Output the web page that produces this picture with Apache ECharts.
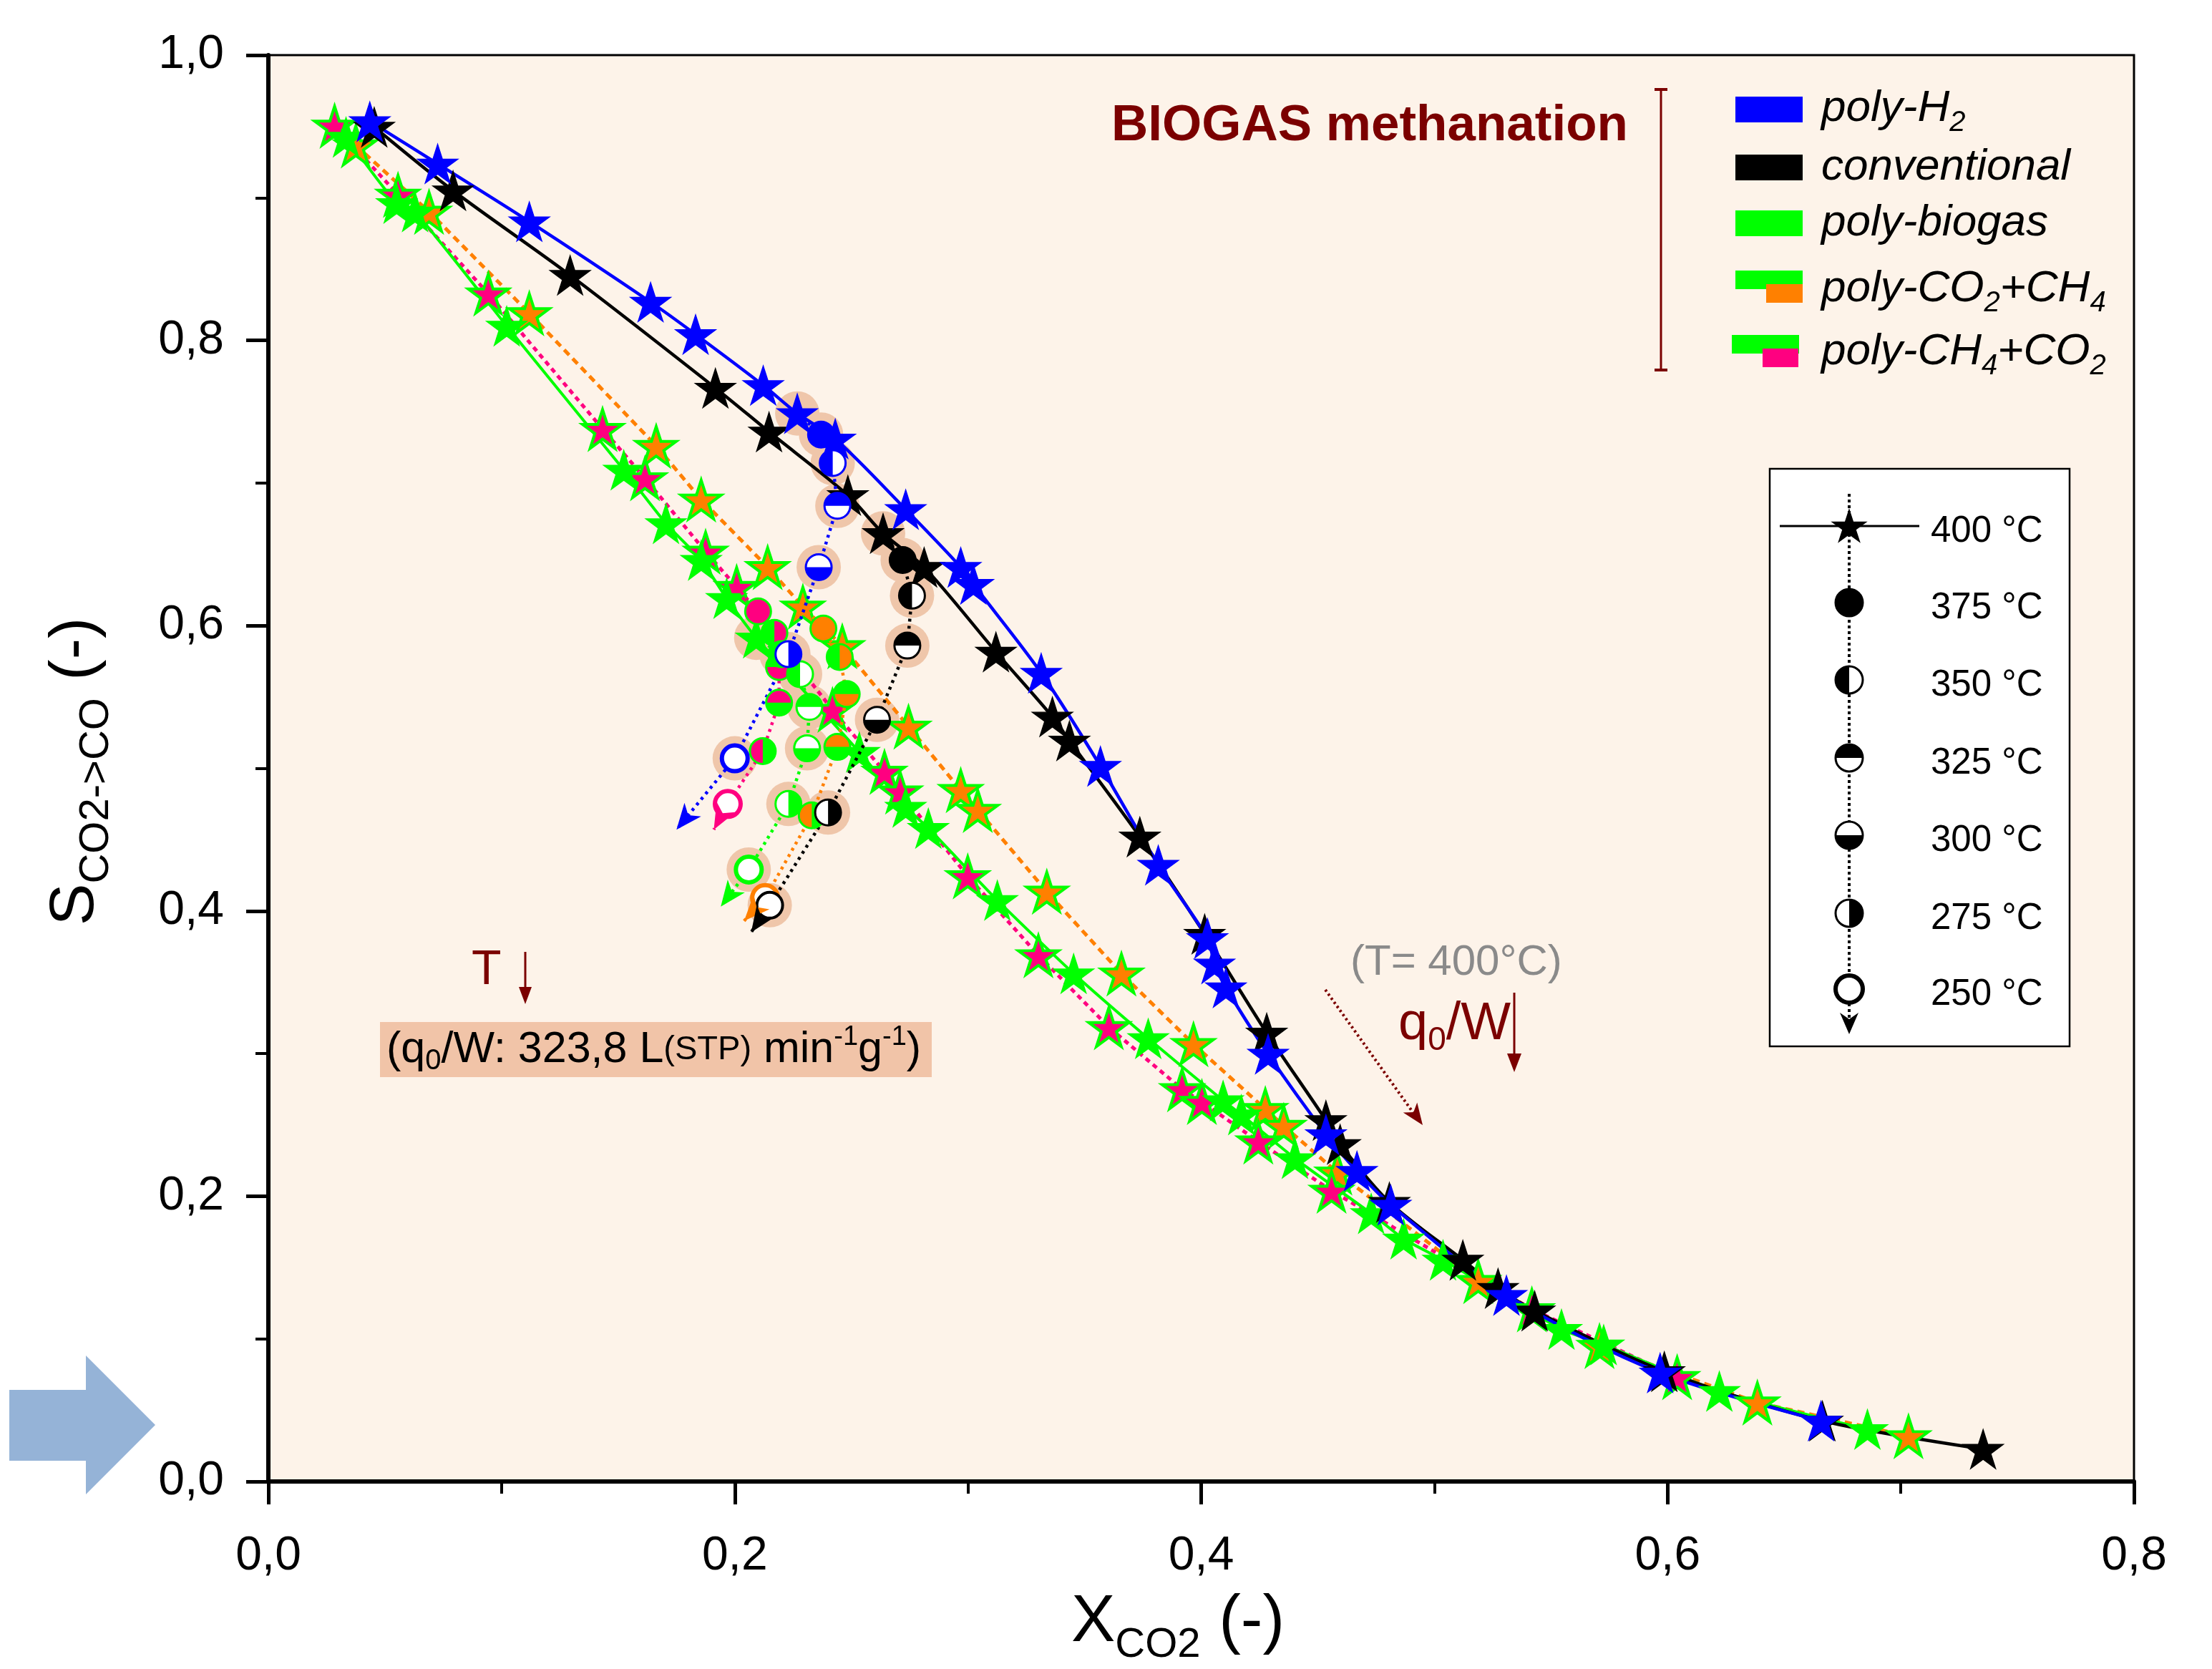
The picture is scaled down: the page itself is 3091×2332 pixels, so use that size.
<!DOCTYPE html>
<html>
<head>
<meta charset="utf-8">
<script src="https://cdn.jsdelivr.net/npm/echarts@6/dist/echarts.min.js"></script>
<title>biogas methanation</title>
<style>
html, body { margin: 0; padding: 0; background: #fff; }
#main { width: 3091px; height: 2332px; }
</style>
</head>
<body>
<div id="main"></div>
<script>
// 400 °C runs, q0/W decreasing along each curve (X_CO2, S_CO2->CO)
var blueStars = [[0.0435,0.9535],[0.0726,0.9238],[0.1119,0.8833],[0.1639,0.8269],[0.1832,0.8042],[0.2122,0.7685],[0.2268,0.7488],[0.2431,0.7310],[0.2733,0.6815],[0.2969,0.6410],[0.3023,0.6291],[0.3314,0.5668],[0.3568,0.5015],[0.3816,0.4322],[0.4027,0.3808],[0.4057,0.3630],[0.4106,0.3462],[0.4287,0.2997],[0.4535,0.2433],[0.4668,0.2176],[0.4813,0.1939],[0.5309,0.1306],[0.5968,0.0762],[0.6658,0.0425]];
var blackStars = [[0.0454,0.9496],[0.0792,0.9050],[0.1294,0.8457],[0.1917,0.7666],[0.2147,0.7359],[0.2485,0.6914],[0.2636,0.6647],[0.2812,0.6410],[0.3120,0.5816],[0.3362,0.5361],[0.3435,0.5193],[0.3737,0.4520],[0.4015,0.3838],[0.4281,0.3145],[0.4535,0.2532],[0.4596,0.2364],[0.4807,0.1958],[0.5122,0.1553],[0.5273,0.1355],[0.5430,0.1197],[0.5986,0.0772],[0.6664,0.0425],[0.7353,0.0227]];
var greenStars = [[0.0333,0.9426],[0.0550,0.8961],[0.0629,0.8902],[0.1022,0.8101],[0.1524,0.7092],[0.1705,0.6716],[0.1856,0.6459],[0.1965,0.6192],[0.2092,0.5915],[0.2534,0.5114],[0.2733,0.4728],[0.2830,0.4580],[0.3126,0.4075],[0.3453,0.3561],[0.3773,0.3106],[0.4094,0.2671],[0.4172,0.2572],[0.4402,0.2265],[0.4729,0.1879],[0.4868,0.1701],[0.5037,0.1553],[0.5545,0.1068],[0.5726,0.0959],[0.6222,0.0633],[0.6857,0.0366]];
var orangeStars = [[0.0375,0.9367],[0.0689,0.8902],[0.1119,0.8190],[0.1663,0.7260],[0.1856,0.6884],[0.2141,0.6410],[0.2292,0.6133],[0.2461,0.5856],[0.2745,0.5292],[0.2969,0.4847],[0.3042,0.4708],[0.3338,0.4135],[0.3658,0.3561],[0.3967,0.3066],[0.4275,0.2611],[0.4354,0.2493],[0.4584,0.2166],[0.5188,0.1405],[0.5708,0.0950],[0.6385,0.0554],[0.7033,0.0317]];
var pinkStars = [[0.0284,0.9505],[0.0556,0.9021],[0.0943,0.8328],[0.1433,0.7379],[0.1615,0.7033],[0.1875,0.6518],[0.2008,0.6271],[0.2419,0.5410],[0.2642,0.4975],[0.2709,0.4837],[0.2999,0.4243],[0.3302,0.3689],[0.3604,0.3185],[0.3918,0.2750],[0.4003,0.2661],[0.4245,0.2384],[0.4559,0.2038],[0.5418,0.1207],[0.6041,0.0732]];

// temperature runs at q0/W = 323,8 : 400, 375, 350, 325, 300, 275, 250 °C
var tempLabels = ['400 °C', '375 °C', '350 °C', '325 °C', '300 °C', '275 °C', '250 °C'];
var blueTemp = [[0.2268,0.7488],[0.237,0.734],[0.242,0.714],[0.244,0.684],[0.236,0.641],[0.223,0.580],[0.200,0.507]];
var blackTemp = [[0.2636,0.6647],[0.272,0.646],[0.276,0.621],[0.274,0.586],[0.261,0.534],[0.240,0.469],[0.215,0.404]];
var greenTemp = [[0.2092,0.5915],[0.220,0.580],[0.228,0.566],[0.232,0.543],[0.231,0.514],[0.223,0.475],[0.206,0.429]];
var orangeTemp = [[0.2292,0.6133],[0.238,0.598],[0.245,0.578],[0.248,0.552],[0.244,0.515],[0.233,0.467],[0.213,0.409]];
var pinkTemp = [[0.2008,0.6271],[0.210,0.610],[0.217,0.595],[0.219,0.571],[0.219,0.546],[0.212,0.512],[0.197,0.475]];
// where the T-arrows end
var blueTip = [0.175,0.457];
var blackTip = [0.207,0.385];
var greenTip = [0.194,0.403];
var orangeTip = [0.204,0.393];
var pinkTip = [0.191,0.457];

var F = "'Liberation Sans', Arial, sans-serif";
var DARK = '#7b0000';
var HALO = '#efc6aa';
var BLUE = '#0000ff', GREEN = '#00ff00', ORANGE = '#ff8000', PINK = '#ff0080';
var STAR = 'path://M50,0L61.2,34.5L97.6,34.5L68.2,55.9L79.4,90.5L50,69.1L20.6,90.5L31.8,55.9L2.4,34.5L38.8,34.5Z';

var PATTERN = [null, 'full', 'left', 'top', 'bottom', 'right', 'open'];
var HALF = {
  left: [Math.PI / 2, Math.PI * 1.5],
  top: [Math.PI, Math.PI * 2],
  bottom: [0, Math.PI],
  right: [-Math.PI / 2, Math.PI / 2]
};

function st(c) {
  return { color: c, full: c, base: '#ffffff', half: c, border: c, ring: c, bw: 3, ringW: 6 };
}
var blueSt = st(BLUE);
var blackSt = st('#000000'); blackSt.ringW = 4;
var greenSt = st(GREEN);
var orangeSt = { color: ORANGE, full: ORANGE, base: ORANGE, half: GREEN, border: GREEN, ring: ORANGE, bw: 3, ringW: 6 };
var pinkSt = { color: PINK, full: PINK, base: PINK, half: GREEN, border: GREEN, ring: PINK, bw: 3, ringW: 6 };

function markerParts(cx, cy, r, k, s) {
  var pat = PATTERN[k];
  var base = pat === 'full' ? s.full : (pat === 'open' ? '#ffffff' : s.base);
  var parts = [{ type: 'circle', shape: { cx: cx, cy: cy, r: r }, style: { fill: base } }];
  var a = HALF[pat];
  if (a) {
    parts.push({ type: 'sector', shape: { cx: cx, cy: cy, r0: 0, r: r, startAngle: a[0], endAngle: a[1], clockwise: true }, style: { fill: s.half } });
  }
  parts.push({ type: 'circle', shape: { cx: cx, cy: cy, r: r },
    style: { fill: 'none', stroke: pat === 'open' ? s.ring : s.border, lineWidth: pat === 'open' ? s.ringW : s.bw } });
  return parts;
}

function headPts(x, y, a, L, w, notch) {
  var dx = Math.cos(a), dy = Math.sin(a), px = -dy, py = dx;
  return [[x, y],
    [x - L * dx + w * px, y - L * dy + w * py],
    [x - (L - notch) * dx, y - (L - notch) * dy],
    [x - L * dx - w * px, y - L * dy - w * py]];
}

function starPoints(cx, cy, R) {
  var pts = [];
  for (var i = 0; i < 10; i++) {
    var a = -Math.PI / 2 + i * Math.PI / 5;
    var rr = i % 2 ? R * 0.382 : R;
    pts.push([cx + rr * Math.cos(a), cy + rr * Math.sin(a)]);
  }
  return pts;
}

function starLine(name, data, color, line, z) {
  return {
    name: name, type: 'line', data: data, z: z || 2,
    symbol: STAR, symbolSize: [56, 54], smooth: line.smooth || false,
    lineStyle: { color: line.color || color, width: line.width || 4, type: line.type || 'solid' },
    itemStyle: { color: color, borderColor: line.border || color, borderWidth: line.border ? 4 : 1.5 }
  };
}

function haloSeries(pts) {
  return {
    type: 'custom', z: 1, encode: { x: 0, y: 1 }, data: pts,
    renderItem: function (params, api) {
      var c = api.coord([api.value(0), api.value(1)]);
      return { type: 'circle', shape: { cx: c[0], cy: c[1], r: 31 }, style: { fill: HALO } };
    }
  };
}

function tempLine(pts, tip, color) {
  return {
    type: 'line', z: 3, symbol: 'none', data: pts.concat([tip]),
    lineStyle: { color: color, width: 4.5, type: [4, 6] }
  };
}

function circleSeries(pts, s) {
  return {
    type: 'custom', z: 4, encode: { x: 0, y: 1 },
    data: pts.slice(1).map(function (p, i) { return [p[0], p[1], i + 1]; }),
    renderItem: function (params, api) {
      var c = api.coord([api.value(0), api.value(1)]);
      return { type: 'group', children: markerParts(c[0], c[1], 18, api.value(2), s) };
    }
  };
}

function arrowSeries(pts, tip, color) {
  var last = pts[pts.length - 1];
  return {
    type: 'custom', z: 4, encode: { x: 0, y: 1 },
    data: [[tip[0], tip[1], last[0], last[1]]],
    renderItem: function (params, api) {
      var t = api.coord([api.value(0), api.value(1)]);
      var p = api.coord([api.value(2), api.value(3)]);
      var a = Math.atan2(t[1] - p[1], t[0] - p[0]);
      return { type: 'polygon', shape: { points: headPts(t[0], t[1], a, 36, 15, 10) }, style: { fill: color } };
    }
  };
}

var series = [
  haloSeries(blueTemp), haloSeries(blackTemp), haloSeries(greenTemp),
  starLine('poly-CO2+CH4', orangeStars, ORANGE, { color: ORANGE, width: 5, type: [10, 7], border: GREEN }),
  starLine('poly-CH4+CO2', pinkStars, PINK, { color: PINK, width: 5, type: [7, 6], border: GREEN }),
  starLine('poly-biogas', greenStars, GREEN, { color: GREEN, width: 4, smooth: 0.2 }),
  starLine('conventional', blackStars, '#000000', { width: 4.5, smooth: 0.3 }),
  starLine('poly-H2', blueStars, BLUE, { width: 4.5, smooth: 0.3 }),
  tempLine(orangeTemp, orangeTip, ORANGE), tempLine(pinkTemp, pinkTip, PINK),
  tempLine(greenTemp, greenTip, GREEN), tempLine(blackTemp, blackTip, '#000000'),
  tempLine(blueTemp, blueTip, BLUE),
  circleSeries(orangeTemp, orangeSt), circleSeries(pinkTemp, pinkSt),
  circleSeries(greenTemp, greenSt), circleSeries(blackTemp, blackSt),
  circleSeries(blueTemp, blueSt),
  arrowSeries(orangeTemp, orangeTip, ORANGE), arrowSeries(pinkTemp, pinkTip, PINK),
  arrowSeries(greenTemp, greenTip, GREEN), arrowSeries(blackTemp, blackTip, '#000000'),
  arrowSeries(blueTemp, blueTip, BLUE)
];

// ---------- legends and notes ----------
var italic = { fontSize: 62, fontStyle: 'italic', fontFamily: F, fill: '#000', lineHeight: 80 };
var italicSub = { fontSize: 40, fontStyle: 'italic', fontFamily: F, fill: '#000', lineHeight: 40, verticalAlign: 'bottom' };
function legendText(y, text) {
  return { type: 'text', x: 2545, y: y, z: 10,
    style: { text: text, align: 'left', verticalAlign: 'middle', textAlign: 'left', textVerticalAlign: 'middle',
      rich: { i: italic, s: italicSub } } };
}

var graphics = [
  // big arrow on the left
  { type: 'polygon', z: 10, shape: { points: [[13,1942],[120,1942],[120,1894],[217,1991],[120,2088],[120,2041],[13,2041]] }, style: { fill: '#95b3d7' } },
  { type: 'text', x: 1553, y: 176, z: 10,
    style: { text: 'BIOGAS methanation', fill: DARK, fontSize: 71, fontWeight: 'bold', fontFamily: F,
      align: 'left', verticalAlign: 'middle', textAlign: 'left', textVerticalAlign: 'middle' } },
  { type: 'line', z: 10, shape: { x1: 2321, y1: 124, x2: 2321, y2: 518 }, style: { stroke: DARK, lineWidth: 3 } },
  { type: 'line', z: 10, shape: { x1: 2312, y1: 125, x2: 2330, y2: 125 }, style: { stroke: DARK, lineWidth: 4 } },
  { type: 'line', z: 10, shape: { x1: 2312, y1: 517, x2: 2330, y2: 517 }, style: { stroke: DARK, lineWidth: 4 } },
  { type: 'rect', z: 10, shape: { x: 2425, y: 135, width: 94, height: 36 }, style: { fill: BLUE } },
  { type: 'rect', z: 10, shape: { x: 2425, y: 216, width: 94, height: 36 }, style: { fill: '#000' } },
  { type: 'rect', z: 10, shape: { x: 2425, y: 294, width: 94, height: 36 }, style: { fill: GREEN } },
  { type: 'rect', z: 10, shape: { x: 2425, y: 378, width: 94, height: 26 }, style: { fill: GREEN } },
  { type: 'rect', z: 10, shape: { x: 2468, y: 397, width: 51, height: 26 }, style: { fill: ORANGE } },
  { type: 'rect', z: 10, shape: { x: 2420, y: 468, width: 94, height: 26 }, style: { fill: GREEN } },
  { type: 'rect', z: 10, shape: { x: 2463, y: 487, width: 50, height: 26 }, style: { fill: PINK } },
  legendText(152, '{i|poly-H}{s|2}'),
  legendText(234, '{i|conventional}'),
  legendText(312, '{i|poly-biogas}'),
  legendText(404, '{i|poly-CO}{s|2}{i|+CH}{s|4}'),
  legendText(492, '{i|poly-CH}{s|4}{i|+CO}{s|2}'),

  // temperature key
  { type: 'rect', z: 10, shape: { x: 2473, y: 655, width: 419, height: 807 }, style: { fill: '#fff', stroke: '#000', lineWidth: 2.5 } },
  { type: 'line', z: 11, shape: { x1: 2584, y1: 690, x2: 2584, y2: 1425 }, style: { stroke: '#000', lineWidth: 4, lineDash: [4, 4] } },
  { type: 'line', z: 11, shape: { x1: 2487, y1: 735, x2: 2682, y2: 735 }, style: { stroke: '#000', lineWidth: 3 } },
  { type: 'polygon', z: 12, shape: { points: starPoints(2584, 737, 27) }, style: { fill: '#000' } },
  { type: 'polygon', z: 12, shape: { points: headPts(2584, 1445, Math.PI / 2, 30, 13, 9) }, style: { fill: '#000' } }
];
var keyRows = [735, 842, 950, 1059, 1167, 1276, 1382];
keyRows.forEach(function (y, i) {
  if (i > 0) {
    markerParts(2584, y, 19, i, st('#000000')).forEach(function (p) { p.z = 12; graphics.push(p); });
  }
  graphics.push({ type: 'text', x: 2698, y: y + 8, z: 12,
    style: { text: tempLabels[i], fill: '#000', fontSize: 51, fontFamily: F,
      align: 'left', verticalAlign: 'middle', textAlign: 'left', textVerticalAlign: 'middle' } });
});

// T arrow and q0/W box
graphics.push(
  { type: 'text', x: 659, y: 1356, z: 10, style: { text: 'T', fill: DARK, fontSize: 68, fontFamily: F,
    align: 'left', verticalAlign: 'middle', textAlign: 'left', textVerticalAlign: 'middle' } },
  { type: 'line', z: 10, shape: { x1: 734, y1: 1330, x2: 734, y2: 1385 }, style: { stroke: DARK, lineWidth: 3 } },
  { type: 'polygon', z: 10, shape: { points: headPts(734, 1403, Math.PI / 2, 24, 9, 0) }, style: { fill: DARK } },
  { type: 'rect', z: 10, shape: { x: 531, y: 1428, width: 771, height: 77 }, style: { fill: '#f1c4a8' } },
  { type: 'text', x: 540, y: 1467, z: 11,
    style: { text: '{n|(q}{s|0}{n|/W: 323,8 L}{m|(STP)}{n| min}{u|-1}{n|g}{u|-1}{n|)}',
      align: 'left', verticalAlign: 'middle', textAlign: 'left', textVerticalAlign: 'middle',
      rich: {
        n: { fontSize: 61, fontFamily: F, fill: '#000', lineHeight: 72 },
        s: { fontSize: 40, fontFamily: F, fill: '#000', lineHeight: 30, verticalAlign: 'bottom' },
        m: { fontSize: 47, fontFamily: F, fill: '#000', lineHeight: 72 },
        u: { fontSize: 38, fontFamily: F, fill: '#000', lineHeight: 36, verticalAlign: 'top' }
      } } },
  { type: 'text', x: 1887, y: 1345, z: 10, style: { text: '(T= 400°C)', fill: '#8a8a8a', fontSize: 60, fontFamily: F,
    align: 'left', verticalAlign: 'middle', textAlign: 'left', textVerticalAlign: 'middle' } },
  { type: 'line', z: 10, shape: { x1: 1852, y1: 1383, x2: 1975, y2: 1555 }, style: { stroke: DARK, lineWidth: 4, lineDash: [3, 4] } },
  { type: 'polygon', z: 10, shape: { points: headPts(1988, 1572, Math.atan2(187, 134), 30, 12, 8) }, style: { fill: DARK } },
  { type: 'text', x: 1954, y: 1432, z: 10,
    style: { text: '{n|q}{s|0}{n|/W}', align: 'left', verticalAlign: 'middle', textAlign: 'left', textVerticalAlign: 'middle',
      rich: {
        n: { fontSize: 74, fontFamily: F, fill: DARK, lineHeight: 90 },
        s: { fontSize: 46, fontFamily: F, fill: DARK, lineHeight: 40, verticalAlign: 'bottom' }
      } } },
  { type: 'line', z: 10, shape: { x1: 2116, y1: 1387, x2: 2116, y2: 1478 }, style: { stroke: DARK, lineWidth: 3 } },
  { type: 'polygon', z: 10, shape: { points: headPts(2116, 1498, Math.PI / 2, 26, 10, 0) }, style: { fill: DARK } },

  // axis titles
  { type: 'text', x: 1646, y: 2268, z: 10,
    style: { text: '{a|X}{b|CO2}{a| (-)}', align: 'center', verticalAlign: 'middle', textAlign: 'center', textVerticalAlign: 'middle',
      rich: {
        a: { fontSize: 92, fontFamily: F, fill: '#000', lineHeight: 120 },
        b: { fontSize: 58, fontFamily: F, fill: '#000', lineHeight: 36, verticalAlign: 'bottom' }
      } } },
  { type: 'text', x: 106, y: 1078, rotation: Math.PI / 2, z: 10,
    style: { text: '{a|S}{b|CO2->CO}{a| (-)}', align: 'center', verticalAlign: 'middle', textAlign: 'center', textVerticalAlign: 'middle',
      rich: {
        a: { fontSize: 88, fontFamily: F, fill: '#000', lineHeight: 116 },
        b: { fontSize: 58, fontFamily: F, fill: '#000', lineHeight: 36, verticalAlign: 'bottom' }
      } } }
);

var comma = function (v) { return v.toFixed(1).replace('.', ','); };

var myChart = echarts.init(document.getElementById('main'));
var option = {
  animation: false,
  backgroundColor: '#ffffff',
  grid: { left: 375, right: 109, top: 77, bottom: 262, show: true, backgroundColor: '#fdf3e9', borderColor: '#000', borderWidth: 3 },
  xAxis: {
    type: 'value', min: 0, max: 0.8, interval: 0.2,
    axisLine: { show: true, onZero: false, lineStyle: { color: '#000', width: 6 } },
    axisTick: { show: true, length: 32, lineStyle: { color: '#000', width: 5 } },
    minorTick: { show: true, splitNumber: 2, length: 17, lineStyle: { color: '#000', width: 4 } },
    splitLine: { show: false },
    axisLabel: { formatter: comma, fontSize: 66, fontFamily: F, color: '#000', margin: 72 }
  },
  yAxis: {
    type: 'value', min: 0, max: 1, interval: 0.2,
    axisLine: { show: true, onZero: false, lineStyle: { color: '#000', width: 6 } },
    axisTick: { show: true, length: 31, lineStyle: { color: '#000', width: 5 } },
    minorTick: { show: true, splitNumber: 2, length: 18, lineStyle: { color: '#000', width: 4 } },
    splitLine: { show: false },
    axisLabel: { formatter: comma, fontSize: 66, fontFamily: F, color: '#000', margin: 62 }
  },
  graphic: graphics,
  series: series
};
myChart.setOption(option);
</script>
</body>
</html>
